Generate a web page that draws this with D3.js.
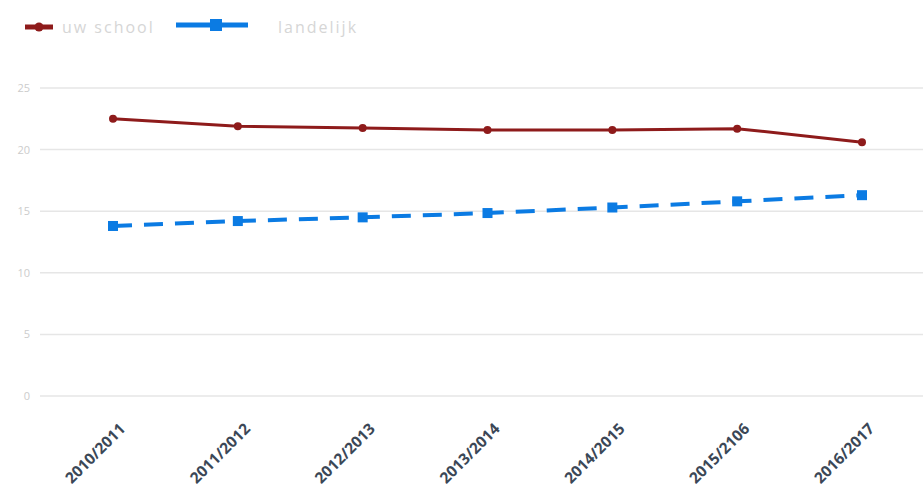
<!DOCTYPE html>
<html>
<head>
<meta charset="utf-8">
<script src="https://cdn.jsdelivr.net/npm/d3@7"></script>
<style>
  body { margin: 0; background: #fff; }
  svg { display: block; font-family: 'Open Sans', sans-serif; }
</style>
</head>
<body>
<svg id="chart" width="923" height="491"></svg>
<script>
const years = ['2010/2011', '2011/2012', '2012/2013', '2013/2014', '2014/2015', '2015/2106', '2016/2017'];
const school = [22.5, 21.9, 21.75, 21.6, 21.6, 21.7, 20.6];
const landelijk = [13.8, 14.2, 14.5, 14.85, 15.3, 15.8, 16.3];
const yTicks = [0, 5, 10, 15, 20, 25];

const svg = d3.select('svg#chart');

// plot area
const x = d3.scalePoint().domain(years).range([113, 862]);
const y = d3.scaleLinear().domain([0, 25]).range([396, 88]);

// gridlines
svg.append('g')
  .selectAll('line')
  .data(yTicks)
  .enter()
  .append('line')
  .attr('x1', 40)
  .attr('x2', 923)
  .attr('y1', d => y(d))
  .attr('y2', d => y(d))
  .attr('stroke', '#e6e6e6')
  .attr('stroke-width', 1.5);

// y labels
svg.append('g')
  .selectAll('text')
  .data(yTicks)
  .enter()
  .append('text')
  .attr('x', 30)
  .attr('y', d => y(d) + 4)
  .attr('text-anchor', 'end')
  .attr('font-size', 11)
  .attr('fill', '#cccccc')
  .text(d => d);

// x labels
const xAxis = d3.axisBottom(x).tickSize(0).tickPadding(0);
const gx = svg.append('g').attr('transform', 'translate(0,418)').call(xAxis);
gx.select('.domain').remove();
gx.selectAll('text')
  .attr('text-anchor', 'end')
  .attr('transform', 'translate(9,8) rotate(-45)')
  .attr('dy', '0.35em')
  .attr('font-size', 15.5)
  .attr('font-weight', 700)
  .attr('font-family', "'Open Sans', sans-serif")
  .attr('fill', '#3b4756');

const line = d3.line().x((d, i) => x(years[i])).y(d => y(d));

// landelijk (dashed blue)
svg.append('path')
  .datum(landelijk)
  .attr('fill', 'none')
  .attr('stroke', '#0b7be3')
  .attr('stroke-width', 4)
  .attr('stroke-dasharray', '19,12')
  .attr('d', line);
svg.append('g')
  .selectAll('rect')
  .data(landelijk)
  .enter()
  .append('rect')
  .attr('x', (d, i) => x(years[i]) - 5)
  .attr('y', d => y(d) - 5)
  .attr('width', 10)
  .attr('height', 10)
  .attr('fill', '#0b7be3');

// uw school (solid dark red)
svg.append('path')
  .datum(school)
  .attr('fill', 'none')
  .attr('stroke', '#8e1b1b')
  .attr('stroke-width', 3)
  .attr('d', line);
svg.append('g')
  .selectAll('circle')
  .data(school)
  .enter()
  .append('circle')
  .attr('cx', (d, i) => x(years[i]))
  .attr('cy', d => y(d))
  .attr('r', 4)
  .attr('fill', '#8e1b1b');

// legend
const legend = svg.append('g');
legend.append('line')
  .attr('x1', 25).attr('x2', 53).attr('y1', 27).attr('y2', 27)
  .attr('stroke', '#8e1b1b').attr('stroke-width', 5);
legend.append('circle')
  .attr('cx', 39).attr('cy', 27).attr('r', 4.5).attr('fill', '#8e1b1b');
legend.append('text')
  .attr('x', 62).attr('y', 33)
  .attr('font-size', 16)
  .attr('letter-spacing', 2)
  .attr('fill', '#d6d6d6')
  .text('uw school');
legend.append('line')
  .attr('x1', 176).attr('x2', 248).attr('y1', 25).attr('y2', 25)
  .attr('stroke', '#0b7be3').attr('stroke-width', 5);
legend.append('rect')
  .attr('x', 210).attr('y', 19).attr('width', 12).attr('height', 12)
  .attr('fill', '#0b7be3');
legend.append('text')
  .attr('x', 278).attr('y', 33)
  .attr('font-size', 16)
  .attr('letter-spacing', 2)
  .attr('fill', '#d6d6d6')
  .text('landelijk');
</script>
</body>
</html>
